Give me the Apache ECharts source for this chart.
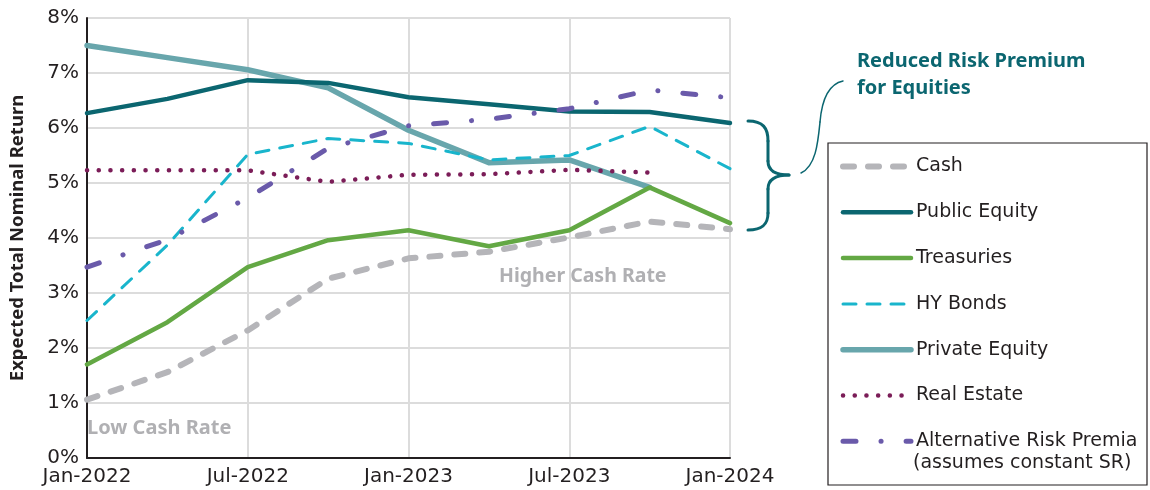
<!DOCTYPE html>
<html>
<head>
<meta charset="utf-8">
<script src="https://cdn.jsdelivr.net/npm/echarts@6/dist/echarts.min.js"></script>
<style>
  html, body { margin: 0; padding: 0; background: #fff; }
  #chart { width: 1150px; height: 490px; }
</style>
</head>
<body>
<div id="chart"></div>
<script>
// Quarterly expected total nominal return (%) by asset class
const quarters = ['Jan-2022', 'Apr-2022', 'Jul-2022', 'Oct-2022', 'Jan-2023', 'Apr-2023', 'Jul-2023', 'Oct-2023', 'Jan-2024'];
const cash = [1.06, 1.56, 2.32, 3.26, 3.63, 3.75, 4.01, 4.30, 4.16];
const publicEquity = [6.27, 6.53, 6.87, 6.82, 6.56, 6.43, 6.30, 6.29, 6.09];
const treasuries = [1.70, 2.47, 3.47, 3.96, 4.14, 3.85, 4.14, 4.92, 4.27];
const hyBonds = [2.50, 3.87, 5.52, 5.81, 5.72, 5.42, 5.50, 6.03, 5.26];
const privateEquity = [7.50, 7.28, 7.06, 6.73, 5.96, 5.37, 5.42, 4.92, null];
const realEstate = [5.23, 5.23, 5.23, 5.02, 5.15, 5.16, 5.24, 5.19, null];
const altRiskPremia = [3.47, 3.97, 4.73, 5.63, 6.04, 6.16, 6.35, 6.69, 6.55];
const yTicks = [0, 1, 2, 3, 4, 5, 6, 7, 8];

const FONT = '"DejaVu Sans", "Noto Sans", sans-serif';
const BOLD_FONT = '"Noto Sans", "DejaVu Sans", sans-serif';
const TEXT = '#231f20';
const TEAL = '#0b6670';
const NOTE_GREY = '#b0b0b3';

function lineSeries(name, data, color, width, type, z) {
  return {
    name: name,
    type: 'line',
    data: data,
    symbol: 'none',
    z: z,
    lineStyle: { color: color, width: width, type: type, cap: 'round', join: 'round' },
    itemStyle: { color: color },
    emphasis: { disabled: true }
  };
}

const series = [
  lineSeries('Private Equity', privateEquity, '#68a6ac', 5.5, 'solid', 2),
  lineSeries('Public Equity', publicEquity, TEAL, 4.5, 'solid', 3),
  lineSeries('Cash', cash, '#b5b5b9', 6, [11, 14], 4),
  lineSeries('Treasuries', treasuries, '#63a844', 4.5, 'solid', 5),
  lineSeries('Real Estate', realEstate, '#7b1d58', 4.5, [0.1, 11.6], 6),
  lineSeries('HY Bonds', hyBonds, '#19b5cc', 3, [13, 11], 7),
  lineSeries('Alternative Risk Premia', altRiskPremia, '#6a5aaa', 5, [13, 25, 0.1, 25], 8)
];

const legendOrder = ['Cash', 'Public Equity', 'Treasuries', 'HY Bonds', 'Private Equity', 'Real Estate', 'Alternative Risk Premia'];

// stroke helpers for the annotation brace and connector
function curve(x1, y1, cx1, cy1, cx2, cy2, x2, y2, w) {
  return {
    type: 'bezierCurve',
    shape: { x1: x1, y1: y1, cpx1: cx1, cpy1: cy1, cpx2: cx2, cpy2: cy2, x2: x2, y2: y2 },
    style: { fill: null, stroke: TEAL, lineWidth: w, lineCap: 'round' }
  };
}
function seg(x1, y1, x2, y2, w) {
  return {
    type: 'line',
    shape: { x1: x1, y1: y1, x2: x2, y2: y2 },
    style: { stroke: TEAL, lineWidth: w, lineCap: 'round' }
  };
}

const chart = echarts.init(document.getElementById('chart'), null, { renderer: 'canvas' });

chart.setOption({
  animation: false,
  backgroundColor: '#ffffff',
  textStyle: { fontFamily: FONT },
  grid: { left: 80, right: 420, top: 18, bottom: 32, containLabel: false },
  xAxis: {
    type: 'category',
    data: quarters,
    boundaryGap: false,
    axisLine: { show: true, lineStyle: { color: '#231f20', width: 2 } },
    axisTick: { show: false },
    axisLabel: { interval: 1, color: TEXT, fontSize: 20, margin: 9, fontFamily: FONT },
    splitLine: { show: true, interval: 1, lineStyle: { color: '#dcdcdc', width: 2 } }
  },
  yAxis: {
    type: 'value',
    min: yTicks[0],
    max: yTicks[yTicks.length - 1],
    interval: 1,
    name: 'Expected Total Nominal Return',
    nameLocation: 'middle',
    nameGap: 60,
    nameTextStyle: { color: TEXT, fontSize: 18.5, fontWeight: 'bold', fontFamily: BOLD_FONT },
    axisLine: { show: true, lineStyle: { color: '#231f20', width: 2 } },
    axisTick: { show: false },
    axisLabel: { color: TEXT, fontSize: 20, margin: 8, formatter: '{value}%', fontFamily: FONT },
    splitLine: { show: true, lineStyle: { color: '#dcdcdc', width: 2 } }
  },
  legend: {
    orient: 'vertical',
    left: 835,
    top: 152,
    itemWidth: 68,
    itemHeight: 20,
    itemGap: 26.8,
    selectedMode: false,
    data: legendOrder,
    textStyle: { color: TEXT, fontSize: 19, fontFamily: FONT },
    itemStyle: { opacity: 0 },
    lineStyle: { width: 'inherit', type: 'inherit', cap: 'round' }
  },
  graphic: [
    // legend frame
    {
      type: 'rect', z: -1,
      shape: { x: 828, y: 143, width: 319, height: 342 },
      style: { fill: null, stroke: '#231f20', lineWidth: 1.2 }
    },
    {
      type: 'text', x: 913, y: 454,
      style: { text: '(assumes constant SR)', fill: TEXT, font: '19px ' + FONT }
    },
    // curly brace beside the equity lines
    curve(748, 121, 763, 121, 768, 128, 768, 141, 3),
    seg(768, 141, 768, 161, 3),
    curve(768, 161, 768, 170, 775, 175, 789, 175, 3),
    curve(789, 175, 775, 175, 768, 180, 768, 189, 3),
    seg(768, 189, 768, 213, 3),
    curve(768, 213, 768, 224, 763, 230, 748, 230, 3),
    // connector to the annotation
    curve(801, 173, 816, 166, 818, 142, 820, 122, 1.5),
    curve(820, 122, 822, 98, 829, 84, 843, 81, 1.5),
    {
      type: 'text', x: 857, y: 48,
      style: { text: 'Reduced Risk Premium\nfor Equities', fill: TEAL, font: 'bold 20px ' + BOLD_FONT, lineHeight: 27 }
    },
    {
      type: 'text', x: 499, y: 266,
      style: { text: 'Higher Cash Rate', fill: NOTE_GREY, font: 'bold 19.5px ' + BOLD_FONT }
    },
    {
      type: 'text', x: 87, y: 418,
      style: { text: 'Low Cash Rate', fill: NOTE_GREY, font: 'bold 20px ' + BOLD_FONT }
    }
  ],
  series: series
});
</script>
</body>
</html>
